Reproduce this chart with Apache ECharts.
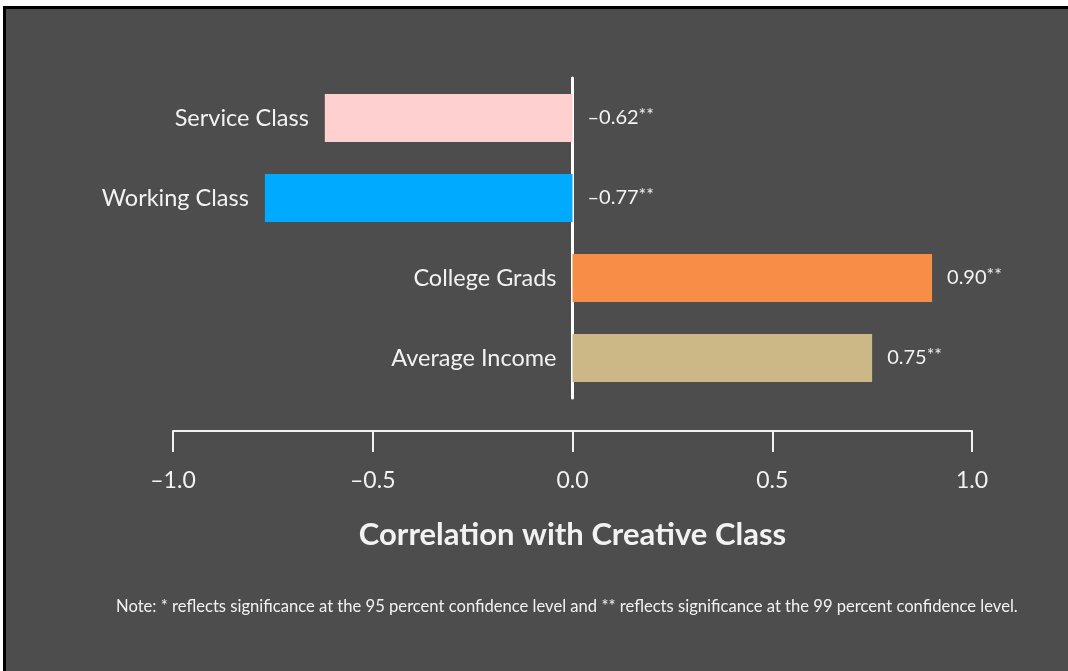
<!DOCTYPE html>
<html>
<head>
<meta charset="utf-8">
<script src="https://cdn.jsdelivr.net/npm/echarts@6/dist/echarts.min.js"></script>
<style>
html,body{margin:0;padding:0;background:#fff;}
#chart{width:1068px;height:671px;}
</style>
</head>
<body>
<div id="chart"></div>
<script>
const categories = ['Service Class', 'Working Class', 'College Grads', 'Average Income'];
const correlations = [-0.62, -0.77, 0.90, 0.75];
const significance = ['**', '**', '**', '**'];
const barColors = ['#ffd0d0', '#00aaff', '#f78e48', '#cbb886'];
const xTicks = { min: -1, max: 1, interval: 0.5 };
const axisTitle = 'Correlation with Creative Class';
const noteText = 'Note: * reflects significance at the 95 percent confidence level and ** reflects significance at the 99 percent confidence level.';

const FONT = 'Lato, "Open Sans", sans-serif';
const TXT = '#f2f2f2';
const BG = '#4d4d4d';

function fmtNum(v, d) {
  return (v < 0 ? '\u2013' : '') + Math.abs(v).toFixed(d);
}

const chart = echarts.init(document.getElementById('chart'));
chart.setOption({
  backgroundColor: BG,
  animation: false,
  title: {
    text: noteText,
    left: 116,
    top: 598,
    padding: 0,
    textStyle: { color: TXT, fontFamily: FONT, fontSize: 16.6, fontWeight: 'normal' }
  },
  graphic: [
    { type: 'rect', shape: { x: 0, y: 0, width: 1068, height: 6 }, style: { fill: '#ffffff' }, silent: true },
    { type: 'rect', shape: { x: 0, y: 0, width: 3, height: 671 }, style: { fill: '#ffffff' }, silent: true },
    { type: 'rect', shape: { x: 3, y: 6, width: 1065, height: 3 }, style: { fill: '#000000' }, silent: true },
    { type: 'rect', shape: { x: 3, y: 6, width: 3, height: 665 }, style: { fill: '#000000' }, silent: true }
  ],
  grid: { left: 173, right: 96, top: 78, height: 320 },
  xAxis: {
    type: 'value',
    min: xTicks.min,
    max: xTicks.max,
    interval: xTicks.interval,
    offset: 33,
    axisLine: { show: true, lineStyle: { color: TXT, width: 2 } },
    axisTick: { show: true, length: 21, lineStyle: { color: TXT, width: 2 } },
    splitLine: { show: false },
    axisLabel: {
      color: TXT, fontFamily: FONT, fontSize: 23, margin: 38,
      formatter: v => fmtNum(v, 1)
    },
    name: axisTitle,
    nameLocation: 'middle',
    nameGap: 88,
    nameTextStyle: { color: TXT, fontFamily: FONT, fontSize: 31, fontWeight: 'bold' }
  },
  yAxis: {
    type: 'category',
    data: categories,
    inverse: true,
    axisLine: { show: true, onZero: true, lineStyle: { color: '#ffffff', width: 3 } },
    axisTick: { show: false },
    axisLabel: { show: false },
    splitLine: { show: false }
  },
  series: [
    {
      type: 'bar',
      barWidth: 48,
      barGap: '-100%',
      z: 1,
      data: correlations.map((v, i) => ({ value: v, itemStyle: { color: barColors[i] } })),
      label: {
        show: true,
        position: 'left',
        distance: 16,
        color: TXT,
        fontFamily: FONT,
        fontSize: 23.5,
        formatter: p => categories[p.dataIndex]
      }
    },
    {
      type: 'bar',
      barWidth: 48,
      barGap: '-100%',
      z: 0,
      itemStyle: { color: 'rgba(0,0,0,0)' },
      data: correlations,
      label: {
        show: true,
        position: 'right',
        distance: 15,
        color: TXT,
        fontFamily: FONT,
        formatter: p => '{v|' + fmtNum(p.value, 2) + '}{s|' + significance[p.dataIndex] + '}',
        rich: {
          v: { color: TXT, fontFamily: FONT, fontSize: 20, lineHeight: 24 },
          s: { color: TXT, fontFamily: FONT, fontSize: 18, lineHeight: 18, verticalAlign: 'top' }
        }
      }
    }
  ]
});
</script>
</body>
</html>
